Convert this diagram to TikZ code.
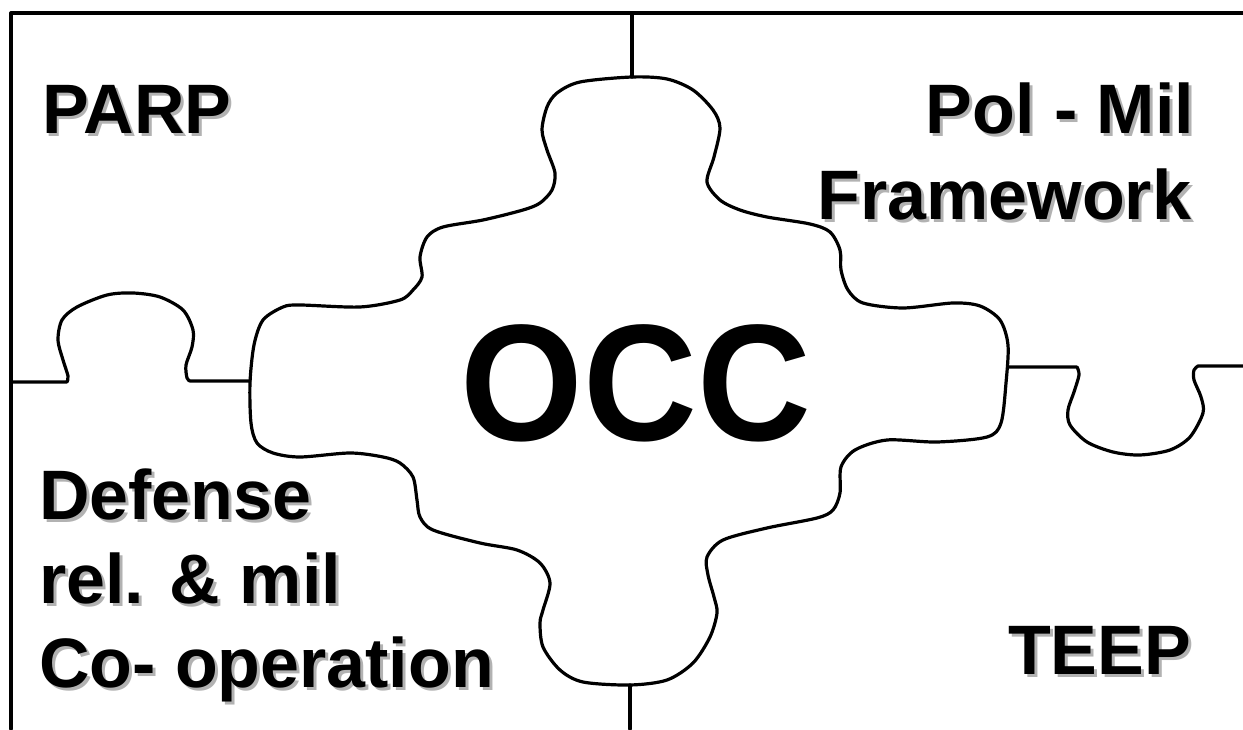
\documentclass[tikz,border=0pt]{standalone}
\usepackage{fontspec}
\setmainfont{Liberation Sans}
\usepackage{tikz}

\begin{document}
\begin{tikzpicture}[x=1pt,y=1pt,
  lbl/.style={inner sep=0pt, outer sep=0pt, font=\bfseries\fontsize{70}{84}\selectfont},
  lblshadow/.style={lbl, text=shadowColor, xshift=3pt, yshift=-3pt},
  edge/.style={draw=drawColor, line width=3.2pt, line join=round, line cap=round}]
\definecolor{fillColor}{RGB}{255,255,255}
\definecolor{drawColor}{RGB}{0,0,0}
\definecolor{shadowColor}{RGB}{178,178,178}
\path[use as bounding box,fill=fillColor] (0,0) rectangle (1243,729);

% frame
\path[edge] (11,0) -- (11,716) -- (1243,716);
\path[edge] (632,716) -- (632,652);
\path[edge] (630,44) -- (630,0);

% left tab
\path[edge] (11,347) -- (67,347)
  plot[smooth] coordinates {(67,347) (68,353) (63,369) (58,389) (62,409) (77,422) (107,434) (133,436)
	(160,432) (183,419) (193,399) (192,382) (186,364) (187,351) (190,348)}
  -- (250,348);

% right tab
\path[edge] (1008,362) -- (1077,362)
  plot[smooth] coordinates {(1077,362) (1079,354) (1074,337) (1068,319) (1070,304) (1087,287) (1113,277)
	(1140,274) (1170,279) (1190,292) (1203,316) (1201,332) (1194,349) (1194,359) (1198,363)}
  -- (1243,363);

% centre piece
\path[edge] plot[smooth cycle] coordinates {
	(632,652) (667,650) (693,639) (713,619) (720,601) (714,572) (707,547) (720,529)
	(740,519) (767,512) (810,505) (830,497) (840,479) (841,459) (848,439) (863,426)
	(903,421) (953,426) (980,423) (1000,409) (1008,384) (1006,346) (1001,306) (987,292)
	(937,287) (887,289) (855,279) (841,262) (840,236) (833,219) (817,211) (767,201)
	(723,189) (707,172) (708,154) (714,132) (717,116) (710,92) (693,66) (667,49)
	(630,44) (583,47) (560,59) (543,82) (540,106) (543,119) (550,146) (540,166)
	(517,179) (480,186) (433,199) (420,212) (417,229) (413,252) (400,266) (383,272)
	(350,276) (300,272) (273,276) (257,286) (251,306) (250,346) (254,384) (263,409)
	(283,422) (300,424) (360,422) (400,429) (413,439) (422,452) (420,472) (427,492)
	(443,502) (483,509) (523,519) (540,526) (552,539) (555,556) (547,579) (542,599)
	(547,622) (557,636) (580,647)};

% labels
\node[lblshadow,anchor=base west] (parpShadow) at (42,595) {PARP};
\node[lbl,anchor=base west] (parp) at (42,595) {PARP};

\node[lblshadow,anchor=base east] (polmilShadow) at (1194,595) {Pol - Mil};
\node[lbl,anchor=base east] (polmil) at (1194,595) {Pol - Mil};
\node[lblshadow,anchor=base east] (frameworkShadow) at (1191,509) {Framework};
\node[lbl,anchor=base east] (framework) at (1191,509) {Framework};

\node[lblshadow,anchor=base west] (defenseShadow) at (39,209) {Defense};
\node[lbl,anchor=base west] (defense) at (39,209) {Defense};
\node[lblshadow,anchor=base west] (relmilShadow) at (39,125) {rel. \& mil};
\node[lbl,anchor=base west] (relmil) at (39,125) {rel. \& mil};
\node[lblshadow,anchor=base west] (coopShadow) at (39,42) {Co- operation};
\node[lbl,anchor=base west] (coop) at (39,42) {Co- operation};

\node[lblshadow,anchor=base east] (teepShadow) at (1191,55) {TEEP};
\node[lbl,anchor=base east] (teep) at (1191,55) {TEEP};

\node[inner sep=0pt,outer sep=0pt,anchor=base,xscale=0.95,transform shape,
  font=\bfseries\fontsize{166}{200}\selectfont] (occ) at (636,288) {OCC};
\end{tikzpicture}
\end{document}
